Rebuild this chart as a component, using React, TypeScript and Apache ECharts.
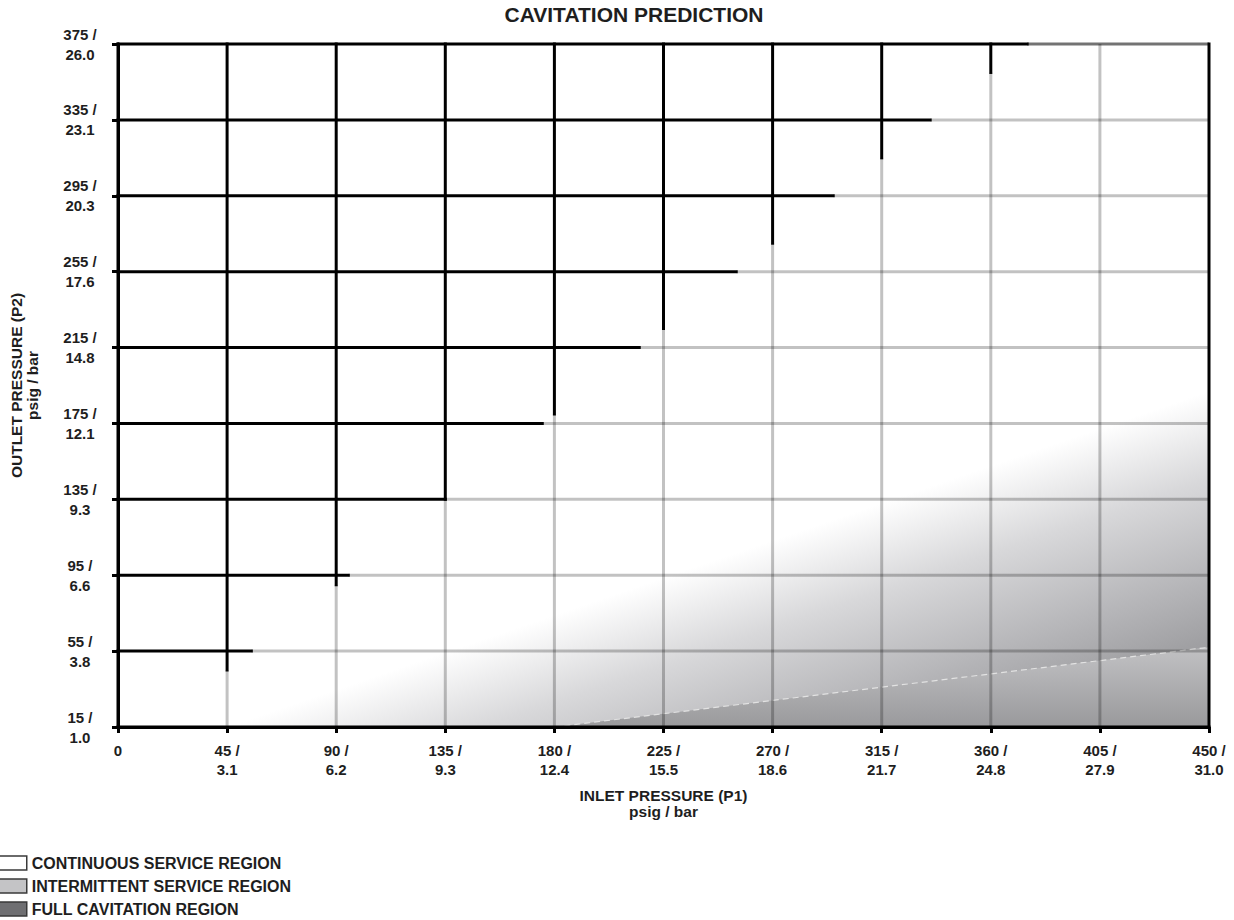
import React, { useEffect, useRef } from "react";
import * as echarts from "echarts";

// ---- axis ticks (psig / bar) ----
const xPsig = [0, 45, 90, 135, 180, 225, 270, 315, 360, 405, 450];
const xBar = ["", "3.1", "6.2", "9.3", "12.4", "15.5", "18.6", "21.7", "24.8", "27.9", "31.0"];
const yPsig = [15, 55, 95, 135, 175, 215, 255, 295, 335, 375];
const yBar = ["1.0", "3.8", "6.6", "9.3", "12.1", "14.8", "17.6", "20.3", "23.1", "26.0"];

// ---- region boundaries (inlet psig, outlet psig) ----
const continuousBoundary = [[15, 15], [375, 375]]; // P2 = P1
const intermittentFadeLine = [[45, 15], [450, 192]]; // where shading starts
const fullCavitationLine = [[180, 15], [450, 57]];

const regionNames = ["CONTINUOUS SERVICE REGION", "INTERMITTENT SERVICE REGION", "FULL CAVITATION REGION"];
const regionLegendColors = ["#ffffff", "#c4c4c6", "#6f6f72"];

const FONT = "'Liberation Sans', Arial, Helvetica, sans-serif";
const TEXT = "#1e1e1e";

const xMin = xPsig[0];
const xMax = xPsig[xPsig.length - 1];
const yMin = yPsig[0];
const yMax = yPsig[yPsig.length - 1];
const [[bx0, by0], [bx1, by1]] = continuousBoundary;
const bSlope = (by1 - by0) / (bx1 - bx0);
const yOnB = (x: number) => by0 + (x - bx0) * bSlope;
const xOnB = (y: number) => bx0 + (y - by0) / bSlope;
const clamp = (v: number, a: number, b: number) => Math.max(a, Math.min(b, v));

// grid segments: [x1, y1, x2, y2, kind] kind 0 = black, 1 = grey, 2 = dark grey (top frame)
const gridSegments: number[][] = [];
xPsig.forEach((x, i) => {
  if (i === 0 || i === xPsig.length - 1) {
    gridSegments.push([x, yMin, x, yMax, 0]);
    return;
  }
  const yb = clamp(yOnB(x), yMin, yMax);
  if (yb < yMax) gridSegments.push([x, yMax, x, yb, 0]);
  if (yb > yMin) gridSegments.push([x, yb, x, yMin, 1]);
});
yPsig.forEach((y, i) => {
  if (i === 0) {
    gridSegments.push([xMin, y, xMax, y, 0]);
    return;
  }
  const xb = clamp(xOnB(y), xMin, xMax);
  if (xb > xMin) gridSegments.push([xMin, y, xb, y, 0]);
  if (xb < xMax) gridSegments.push([xb, y, xMax, y, i === yPsig.length - 1 ? 2 : 1]);
});

export default function App() {
  const ref = useRef<HTMLDivElement>(null);
  useEffect(() => {
    if (!ref.current) return;
    const chart = echarts.init(ref.current, null, { renderer: "svg" });

    const labelStyle = {
      fontFamily: FONT,
      fontWeight: "bold" as const,
      fontSize: 15,
      lineHeight: 20,
      color: TEXT,
    };

    const option: any = {
      animation: false,
      backgroundColor: "#ffffff",
      title: {
        text: "CAVITATION PREDICTION",
        left: 634,
        top: 4,
        padding: 0,
        textAlign: "center",
        textStyle: { fontFamily: FONT, fontWeight: "bold", fontSize: 21, color: TEXT },
      },
      legend: {
        orient: "vertical",
        left: -4,
        top: 855,
        padding: 0,
        icon: "rect",
        itemWidth: 30,
        itemHeight: 14,
        itemGap: 7,
        selectedMode: false,
        textStyle: { fontFamily: FONT, fontWeight: "bold", fontSize: 16, lineHeight: 16, color: TEXT },
        data: regionNames.map((n, i) => ({
          name: n,
          itemStyle: { color: regionLegendColors[i], borderColor: "#3a3a3a", borderWidth: 1.5 },
        })),
      },
      grid: { left: 118, right: 25, top: 44, bottom: 193 },
      xAxis: {
        type: "value",
        min: xMin,
        max: xMax,
        interval: 45,
        z: 10,
        name: "INLET PRESSURE (P1)\npsig / bar",
        nameLocation: "middle",
        nameGap: 60,
        nameTextStyle: { ...labelStyle, fontSize: 15.5, lineHeight: 16 },
        axisLine: { show: true, onZero: false, lineStyle: { color: "#000", width: 3 } },
        axisTick: { show: true, length: 6, lineStyle: { color: "#000", width: 3 } },
        splitLine: { show: false },
        axisLabel: {
          ...labelStyle,
          lineHeight: 19,
          margin: 14,
          formatter: (v: number) => {
            const i = xPsig.indexOf(v);
            if (i < 0) return "";
            return xBar[i] ? `${xPsig[i]} /\n${xBar[i]}` : `${xPsig[i]}`;
          },
        },
      },
      yAxis: {
        type: "value",
        min: yMin,
        max: yMax,
        z: 10,
        name: "OUTLET PRESSURE (P2)\npsig / bar",
        nameLocation: "middle",
        nameGap: 78,
        nameTextStyle: { ...labelStyle, fontSize: 15.5, lineHeight: 16 },
        axisLine: { show: true, lineStyle: { color: "#000", width: 3 } },
        axisTick: { show: true, length: 6, customValues: yPsig, lineStyle: { color: "#000", width: 3 } },
        splitLine: { show: false },
        axisLabel: {
          ...labelStyle,
          align: "center",
          margin: 38,
          customValues: yPsig,
          formatter: (v: number) => {
            const i = yPsig.indexOf(v);
            return i < 0 ? "" : `${yPsig[i]} /\n${yBar[i]}`;
          },
        },
      },
      series: [
        {
          name: regionNames[0],
          type: "custom",
          z: 1,
          silent: true,
          data: [[xMin, yMin]],
          renderItem: (_p: any, api: any) => {
            const pts = [[xMin, yMin], [xMin, yMax], [xOnB(yMax), yMax], [xOnB(yMin), yMin]].map((p) => api.coord(p));
            return { type: "polygon", shape: { points: pts }, style: { fill: "#ffffff" } };
          },
        },
        {
          name: regionNames[1],
          type: "custom",
          z: 1,
          silent: true,
          data: [[xMax, yMin]],
          renderItem: (_p: any, api: any) => {
            const pts = [[xOnB(yMin), yMin], [xOnB(yMax), yMax], [xMax, yMax], [xMax, yMin]].map((p) => api.coord(p));
            const a = api.coord(intermittentFadeLine[0]);
            const b = api.coord(intermittentFadeLine[1]);
            const dx = b[0] - a[0];
            const dy = b[1] - a[1];
            const len = Math.hypot(dx, dy);
            let nx = -dy / len;
            let ny = dx / len;
            if (ny < 0) {
              nx = -nx;
              ny = -ny;
            }
            const c = api.coord([xMax, yMin]);
            const dist = (c[0] - b[0]) * nx + (c[1] - b[1]) * ny;
            const fill = new echarts.graphic.LinearGradient(
              b[0],
              b[1],
              b[0] + nx * dist,
              b[1] + ny * dist,
              [
                { offset: 0, color: "#ffffff" },
                { offset: 0.26, color: "#d8d8da" },
                { offset: 0.56, color: "#b5b5b8" },
                { offset: 0.74, color: "#a0a0a3" },
                { offset: 1, color: "#858588" },
              ],
              true
            );
            return { type: "polygon", shape: { points: pts }, style: { fill } };
          },
        },
        {
          name: regionNames[2],
          type: "custom",
          z: 2,
          silent: true,
          data: [[xMax, yMin]],
          renderItem: (_p: any, api: any) => {
            const pts = [fullCavitationLine[0], fullCavitationLine[1], [xMax, yMin]].map((p) => api.coord(p));
            const fill = new echarts.graphic.LinearGradient(0.244, -0.14, 0.32, 2.33, [
              { offset: 0, color: "#c8c8ca" },
              { offset: 1, color: "#646467" },
            ]);
            return { type: "polygon", shape: { points: pts }, style: { fill } };
          },
        },
        {
          name: "fullCavitationEdge",
          type: "line",
          z: 3,
          silent: true,
          symbol: "none",
          data: fullCavitationLine,
          lineStyle: { color: "#e2e2e2", width: 1.2, type: [6, 4] },
        },
        {
          name: "gridLines",
          type: "custom",
          z: 4,
          silent: true,
          encode: { x: [0, 2], y: [1, 3] },
          data: gridSegments,
          renderItem: (_p: any, api: any) => {
            const p1 = api.coord([api.value(0), api.value(1)]);
            const p2 = api.coord([api.value(2), api.value(3)]);
            const k = api.value(4);
            const stroke = k === 0 ? "#000000" : k === 2 ? "rgba(0,0,0,0.55)" : "rgba(0,0,0,0.24)";
            return {
              type: "line",
              z2: k === 0 ? 10 : 1,
              shape: { x1: p1[0], y1: p1[1], x2: p2[0], y2: p2[1] },
              style: { stroke, lineWidth: 3, lineCap: k === 0 ? "square" : "butt" },
            };
          },
        },
      ],
    };
    chart.setOption(option);
    return () => chart.dispose();
  }, []);
  return <div ref={ref} style={{ position: "fixed", left: 0, top: 0, width: 1234, height: 920 }} />;
}
